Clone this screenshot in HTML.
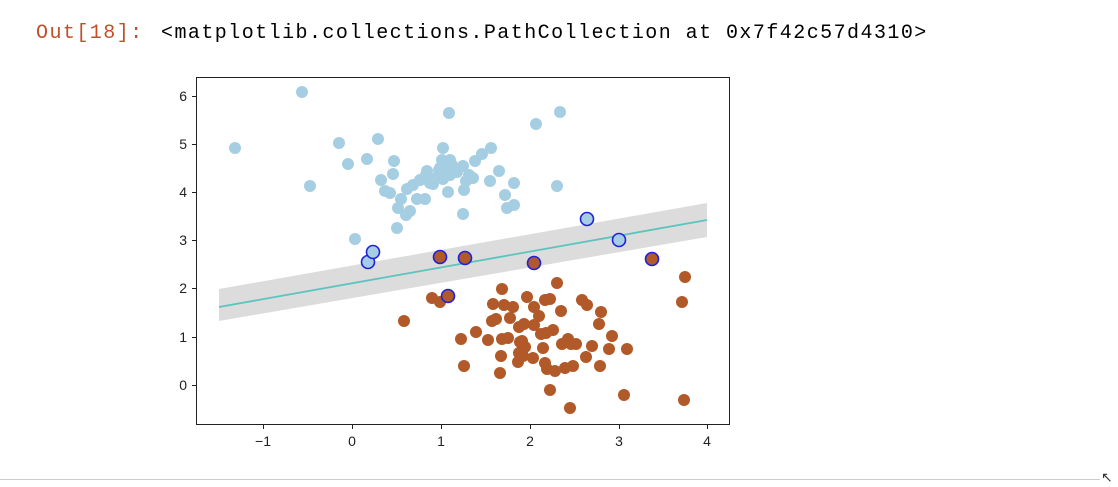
<!DOCTYPE html>
<html><head><style>
body{margin:0;width:1118px;height:486px;background:#fff;position:relative;overflow:hidden;font-family:"Liberation Mono",monospace;}
.t{position:absolute;top:22px;font-size:20px;letter-spacing:1.45px;}
</style></head><body>
<div class="t" style="left:36px;color:#c0502a">Out[18]:</div>
<div class="t" style="left:161px;color:#000">&lt;matplotlib.collections.PathCollection at 0x7f42c57d4310&gt;</div>
<div style="position:absolute;left:0;top:479px;width:1100px;height:1px;background:#ccc"></div>
<div style="position:absolute;left:1101px;top:470px;font-size:14px;color:#333">&#8598;</div>
<svg width="1118" height="486" style="position:absolute;left:0;top:0" font-family="Liberation Sans, sans-serif">
<polygon points="219,289 707,203 707,237 219,321" fill="#dcdcdc"/>
<line x1="219" y1="307" x2="707" y2="220" stroke="#5cc4bf" stroke-width="1.8"/>
<g fill="#a6cee3">
<circle cx="235" cy="148" r="6"/><circle cx="302" cy="92" r="6"/><circle cx="310" cy="186" r="6"/><circle cx="339" cy="143" r="6"/><circle cx="348" cy="164" r="6"/><circle cx="367" cy="159" r="6"/><circle cx="378" cy="139" r="6"/><circle cx="381" cy="180" r="6"/><circle cx="385" cy="191" r="6"/><circle cx="394" cy="161" r="6"/><circle cx="393" cy="174" r="6"/><circle cx="390" cy="193" r="6"/><circle cx="398" cy="208" r="6"/><circle cx="401" cy="199" r="6"/><circle cx="407" cy="189" r="6"/><circle cx="406" cy="215" r="6"/><circle cx="410" cy="211" r="6"/><circle cx="413" cy="185" r="6"/><circle cx="417" cy="199" r="6"/><circle cx="420" cy="180" r="6"/><circle cx="426" cy="175" r="6"/><circle cx="430" cy="183" r="6"/><circle cx="427" cy="171" r="6"/><circle cx="433" cy="184" r="6"/><circle cx="436" cy="178" r="6"/><circle cx="439" cy="170" r="6"/><circle cx="442" cy="160" r="6"/><circle cx="440" cy="168" r="6"/><circle cx="443" cy="179" r="6"/><circle cx="443" cy="148" r="6"/><circle cx="448" cy="169" r="6"/><circle cx="450" cy="160" r="6"/><circle cx="452" cy="165" r="6"/><circle cx="449" cy="113" r="6"/><circle cx="448" cy="192" r="6"/><circle cx="450" cy="175" r="6"/><circle cx="463" cy="166" r="6"/><circle cx="464" cy="190" r="6"/><circle cx="463" cy="214" r="6"/><circle cx="466" cy="181" r="6"/><circle cx="469" cy="175" r="6"/><circle cx="473" cy="178" r="6"/><circle cx="475" cy="161" r="6"/><circle cx="482" cy="154" r="6"/><circle cx="491" cy="148" r="6"/><circle cx="490" cy="181" r="6"/><circle cx="499" cy="171" r="6"/><circle cx="505" cy="195" r="6"/><circle cx="507" cy="208" r="6"/><circle cx="514" cy="205" r="6"/><circle cx="514" cy="183" r="6"/><circle cx="536" cy="124" r="6"/><circle cx="557" cy="186" r="6"/><circle cx="560" cy="112" r="6"/><circle cx="355" cy="239" r="6"/><circle cx="397" cy="228" r="6"/><circle cx="425" cy="199" r="6"/><circle cx="457" cy="172" r="6"/>
</g>
<g fill="#b15928">
<circle cx="685" cy="277" r="6"/><circle cx="682" cy="302" r="6"/><circle cx="404" cy="321" r="6"/><circle cx="432" cy="298" r="6"/><circle cx="440" cy="302" r="6"/><circle cx="502" cy="289" r="6"/><circle cx="493" cy="304" r="6"/><circle cx="504" cy="305" r="6"/><circle cx="513" cy="307" r="6"/><circle cx="534" cy="307" r="6"/><circle cx="550" cy="299" r="6"/><circle cx="561" cy="311" r="6"/><circle cx="557" cy="283" r="6"/><circle cx="582" cy="300" r="6"/><circle cx="587" cy="305" r="6"/><circle cx="601" cy="312" r="6"/><circle cx="599" cy="324" r="6"/><circle cx="492" cy="321" r="6"/><circle cx="496" cy="319" r="6"/><circle cx="510" cy="318" r="6"/><circle cx="519" cy="327" r="6"/><circle cx="524" cy="324" r="6"/><circle cx="534" cy="325" r="6"/><circle cx="539" cy="316" r="6"/><circle cx="541" cy="334" r="6"/><circle cx="546" cy="333" r="6"/><circle cx="553" cy="330" r="6"/><circle cx="568" cy="339" r="6"/><circle cx="562" cy="344" r="6"/><circle cx="571" cy="344" r="6"/><circle cx="576" cy="344" r="6"/><circle cx="592" cy="346" r="6"/><circle cx="612" cy="336" r="6"/><circle cx="609" cy="349" r="6"/><circle cx="627" cy="349" r="6"/><circle cx="461" cy="339" r="6"/><circle cx="476" cy="332" r="6"/><circle cx="502" cy="339" r="6"/><circle cx="508" cy="338" r="6"/><circle cx="522" cy="341" r="6"/><circle cx="523" cy="356" r="6"/><circle cx="519" cy="353" r="6"/><circle cx="525" cy="347" r="6"/><circle cx="533" cy="358" r="6"/><circle cx="543" cy="348" r="6"/><circle cx="545" cy="363" r="6"/><circle cx="547" cy="369" r="6"/><circle cx="565" cy="368" r="6"/><circle cx="573" cy="366" r="6"/><circle cx="600" cy="366" r="6"/><circle cx="501" cy="356" r="6"/><circle cx="464" cy="366" r="6"/><circle cx="500" cy="373" r="6"/><circle cx="555" cy="371" r="6"/><circle cx="518" cy="362" r="6"/><circle cx="550" cy="390" r="6"/><circle cx="624" cy="395" r="6"/><circle cx="684" cy="400" r="6"/><circle cx="570" cy="408" r="6"/><circle cx="586" cy="357" r="6"/><circle cx="527" cy="297" r="6"/><circle cx="545" cy="300" r="6"/><circle cx="520" cy="342" r="6"/><circle cx="488" cy="340" r="6"/>
</g>
<g stroke="#2020e0" stroke-width="1.6">
<circle cx="368" cy="262" r="6.5" fill="#a6cee3"/><circle cx="373" cy="252" r="6.5" fill="#a6cee3"/><circle cx="587" cy="219" r="6.5" fill="#a6cee3"/><circle cx="619" cy="240" r="6.5" fill="#a6cee3"/>
<circle cx="440" cy="257" r="6.5" fill="#b15928"/><circle cx="465" cy="258" r="6.5" fill="#b15928"/><circle cx="534" cy="263" r="6.5" fill="#b15928"/><circle cx="652" cy="259" r="6.5" fill="#b15928"/><circle cx="448" cy="296" r="6.5" fill="#b15928"/>
</g>
<rect x="196.5" y="77.5" width="533" height="347" fill="none" stroke="#222" stroke-width="1"/>
<g stroke="#222" stroke-width="1">
<line x1="263.5" y1="425" x2="263.5" y2="429"/><line x1="352.5" y1="425" x2="352.5" y2="429"/><line x1="441.5" y1="425" x2="441.5" y2="429"/><line x1="530.5" y1="425" x2="530.5" y2="429"/><line x1="619.5" y1="425" x2="619.5" y2="429"/><line x1="707.5" y1="425" x2="707.5" y2="429"/>
<line x1="192" y1="96.5" x2="196" y2="96.5"/><line x1="192" y1="144.5" x2="196" y2="144.5"/><line x1="192" y1="192.5" x2="196" y2="192.5"/><line x1="192" y1="240.5" x2="196" y2="240.5"/><line x1="192" y1="288.5" x2="196" y2="288.5"/><line x1="192" y1="337.5" x2="196" y2="337.5"/><line x1="192" y1="385.5" x2="196" y2="385.5"/>
</g>
<g font-size="14" fill="#222" text-anchor="middle">
<text x="263" y="446">−1</text><text x="352" y="446">0</text><text x="441" y="446">1</text><text x="530" y="446">2</text><text x="619" y="446">3</text><text x="707" y="446">4</text>
</g>
<g font-size="14" fill="#222" text-anchor="end">
<text x="187" y="101">6</text><text x="187" y="149">5</text><text x="187" y="197">4</text><text x="187" y="245">3</text><text x="187" y="293">2</text><text x="187" y="342">1</text><text x="187" y="390">0</text>
</g>
</svg>
</body></html>
